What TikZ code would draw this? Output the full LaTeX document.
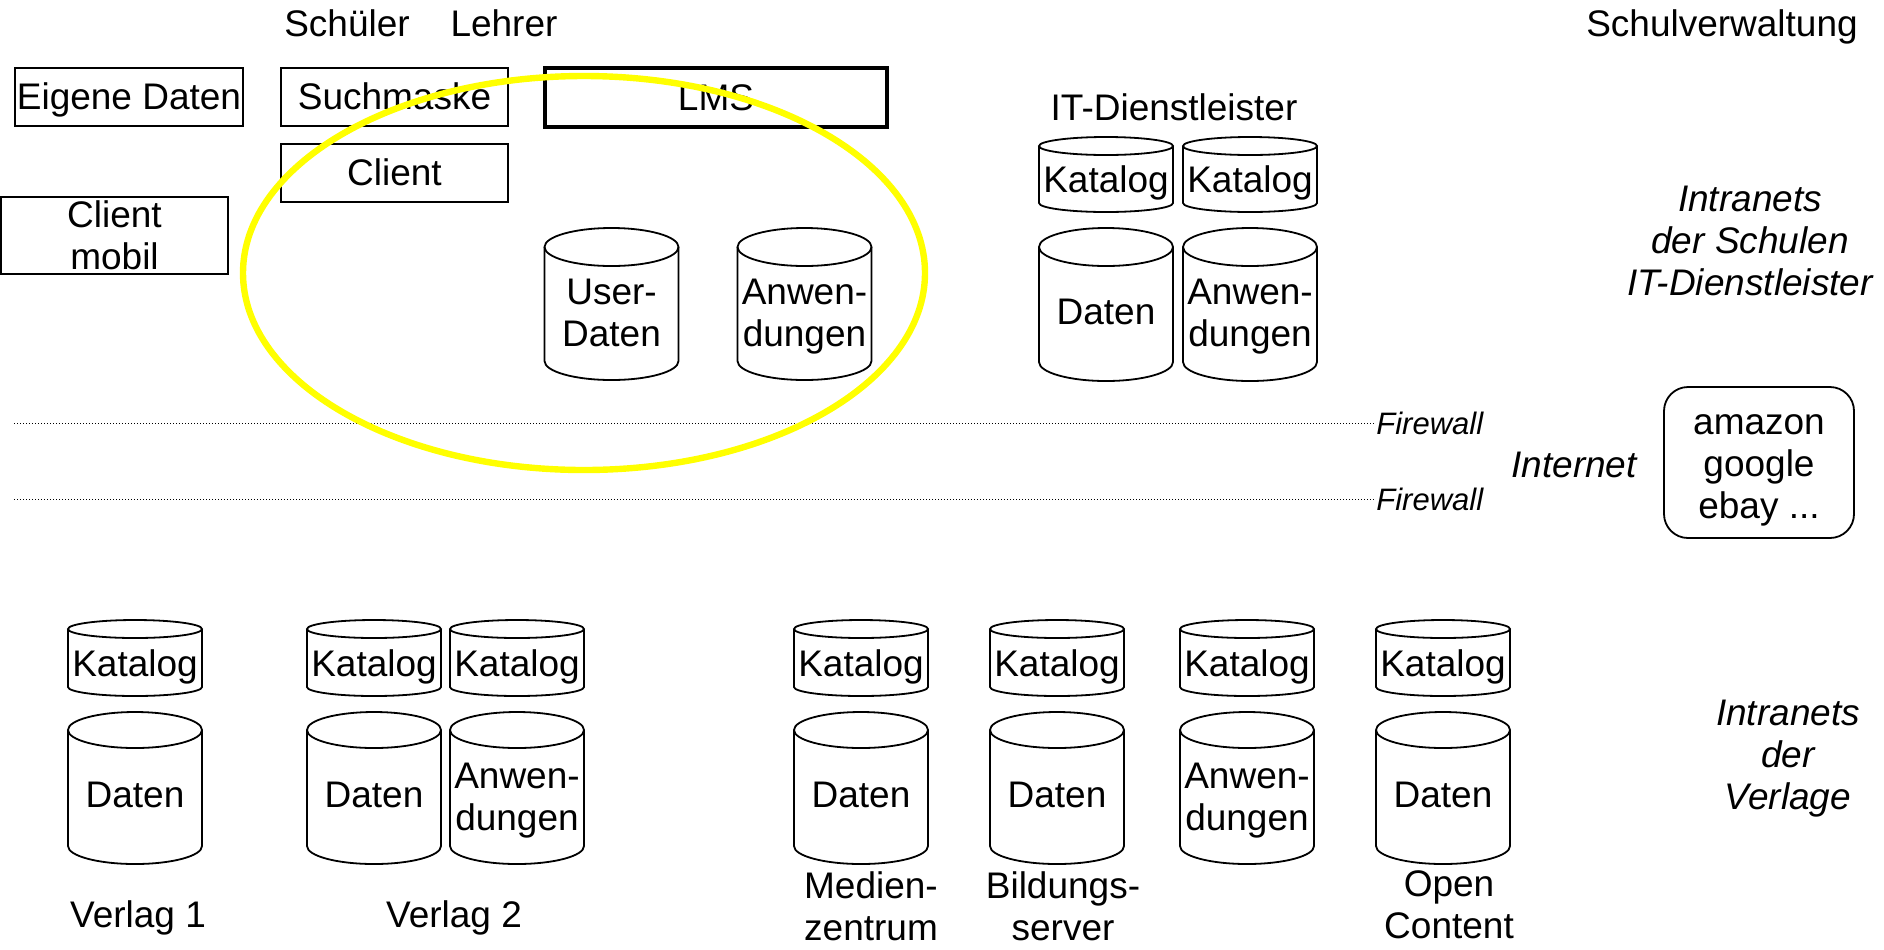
\documentclass[tikz,border=0pt]{standalone}
\usepackage{fontspec}
\setmainfont{Liberation Sans}
% #1 name, #2 centre x, #3 top, #4 bottom, #5 ellipse y radius, #6 text y, #7 node options, #8 text
\newcommand\cyl[8]{%
  \draw[cylline] ({#2-67},{#3+#5}) -- ({#2-67},{#4-#5}) arc[start angle=180,end angle=0,x radius=67,y radius=#5] -- ({#2+67},{#3+#5});
  \draw[cylline] (#2,{#3+#5}) ellipse[x radius=67,y radius=#5];
  \node[align=center,#7] (#1) at (#2,#6) {#8};
}
\begin{document}
\begin{tikzpicture}[x=0.5pt,y=-0.5pt,
  every node/.style={font=\fontsize{18.5pt}{21pt}\selectfont, inner sep=0pt},
  one/.style={text height=12.95pt, text depth=0pt},
  box/.style={draw, line width=0.9pt, align=center},
  cylline/.style={line width=0.9pt},
  lbl/.style={align=center},
  ital/.style={align=center, font=\fontsize{18.5pt}{21pt}\selectfont\itshape},
  fw/.style={anchor=west, font=\fontsize{15.5pt}{17pt}\selectfont\itshape},
  fwline/.style={line width=0.5pt, dash pattern=on 0.5pt off 1pt}
]
\definecolor{hl}{RGB}{255,255,0}
\useasboundingbox (0,0) rectangle (1884,949);

% top labels
\node[lbl,one] (schueler) at (347,23.5) {Schüler};
\node[lbl,one] (lehrer) at (504,23.5) {Lehrer};
\node[lbl,one] (verw) at (1722,23.5) {Schulverwaltung};

% boxes
\node[box,one, minimum width=114pt, minimum height=29pt] (eigene) at (129,97) {Eigene Daten};
\node[box,one, minimum width=113.5pt, minimum height=29pt] (such) at (394.5,97) {Suchmaske};
\node[box,one, line width=2pt, minimum width=171pt, minimum height=29.5pt] (lms) at (716,97.5) {LMS};
\node[box,one, minimum width=113.5pt, minimum height=29pt] (client) at (394.5,173) {Client};
\node[box, minimum width=113.5pt, minimum height=38.5pt] (mobil) at (114.5,235.5) {Client\\mobil};

% LMS cylinders
\cyl{ud}{611.5}{228}{380}{19}{313}{}{User-\\Daten}
\cyl{aw}{804.5}{228}{380}{19}{316.5}{}{Anwen-\\dungen}

% IT-Dienstleister
\node[lbl,one] (itlbl) at (1174,107.5) {IT-Dienstleister};
\cyl{itk1}{1106}{137}{212}{9}{180}{one}{Katalog}
\cyl{itk2}{1250}{137}{212}{9}{180}{one}{Katalog}
\cyl{itd}{1106}{228}{381}{19}{312}{one}{Daten}
\cyl{ita}{1250}{228}{381}{19}{316.5}{}{Anwen-\\dungen}

\node[ital] (intra1) at (1750,240.5) {Intranets\\der Schulen\\IT-Dienstleister};

% firewalls
\node[fw] (fw1) at (1376,423) {Firewall};
\node[fw] (fw2) at (1376,499) {Firewall};
\coordinate (fw1s) at (14,423);
\coordinate (fw2s) at (14,499);
\draw[fwline] (fw1s) -- (fw1.west);
\draw[fwline] (fw2s) -- (fw2.west);

\node[ital,one] (internet) at (1574,464.5) {Internet};
\node[box, rounded corners=12pt, minimum width=95pt, minimum height=75.5pt] (amazon) at (1759,462.5) {};
\node[lbl] (amazontxt) at (1759,470.5) {amazon\\google\\ebay ...};

% Verlage
\cyl{v1k}{135}{620}{696}{9}{664}{one}{Katalog}
\cyl{v1d}{135}{712}{864}{18}{795}{one}{Daten}
\cyl{v2k1}{374}{620}{696}{9}{664}{one}{Katalog}
\cyl{v2k2}{517}{620}{696}{9}{664}{one}{Katalog}
\cyl{v2d}{374}{712}{864}{18}{795}{one}{Daten}
\cyl{v2a}{517}{712}{864}{18}{800.5}{}{Anwen-\\dungen}
\cyl{mk}{861}{620}{696}{9}{664}{one}{Katalog}
\cyl{md}{861}{712}{864}{18}{795}{one}{Daten}
\cyl{bk}{1057}{620}{696}{9}{664}{one}{Katalog}
\cyl{bd}{1057}{712}{864}{18}{795}{one}{Daten}
\cyl{ak}{1247}{620}{696}{9}{664}{one}{Katalog}
\cyl{aa}{1247}{712}{864}{18}{800.5}{}{Anwen-\\dungen}
\cyl{ok}{1443}{620}{696}{9}{664}{one}{Katalog}
\cyl{od}{1443}{712}{864}{18}{795}{one}{Daten}

\node[lbl,one] (verlag1) at (138,915) {Verlag 1};
\node[lbl,one] (verlag2) at (454,915) {Verlag 2};
\node[lbl] (medien) at (871,906) {Medien-\\zentrum};
\node[lbl] (bildung) at (1063,906) {Bildungs-\\server};
\node[lbl] (open) at (1449,905) {Open\\Content};
\node[ital] (intra2) at (1788,759) {Intranets\\der\\Verlage};

% yellow highlight
\draw[hl, line width=3.2pt] (584,273) ellipse[x radius=341, y radius=197];
\end{tikzpicture}
\end{document}
